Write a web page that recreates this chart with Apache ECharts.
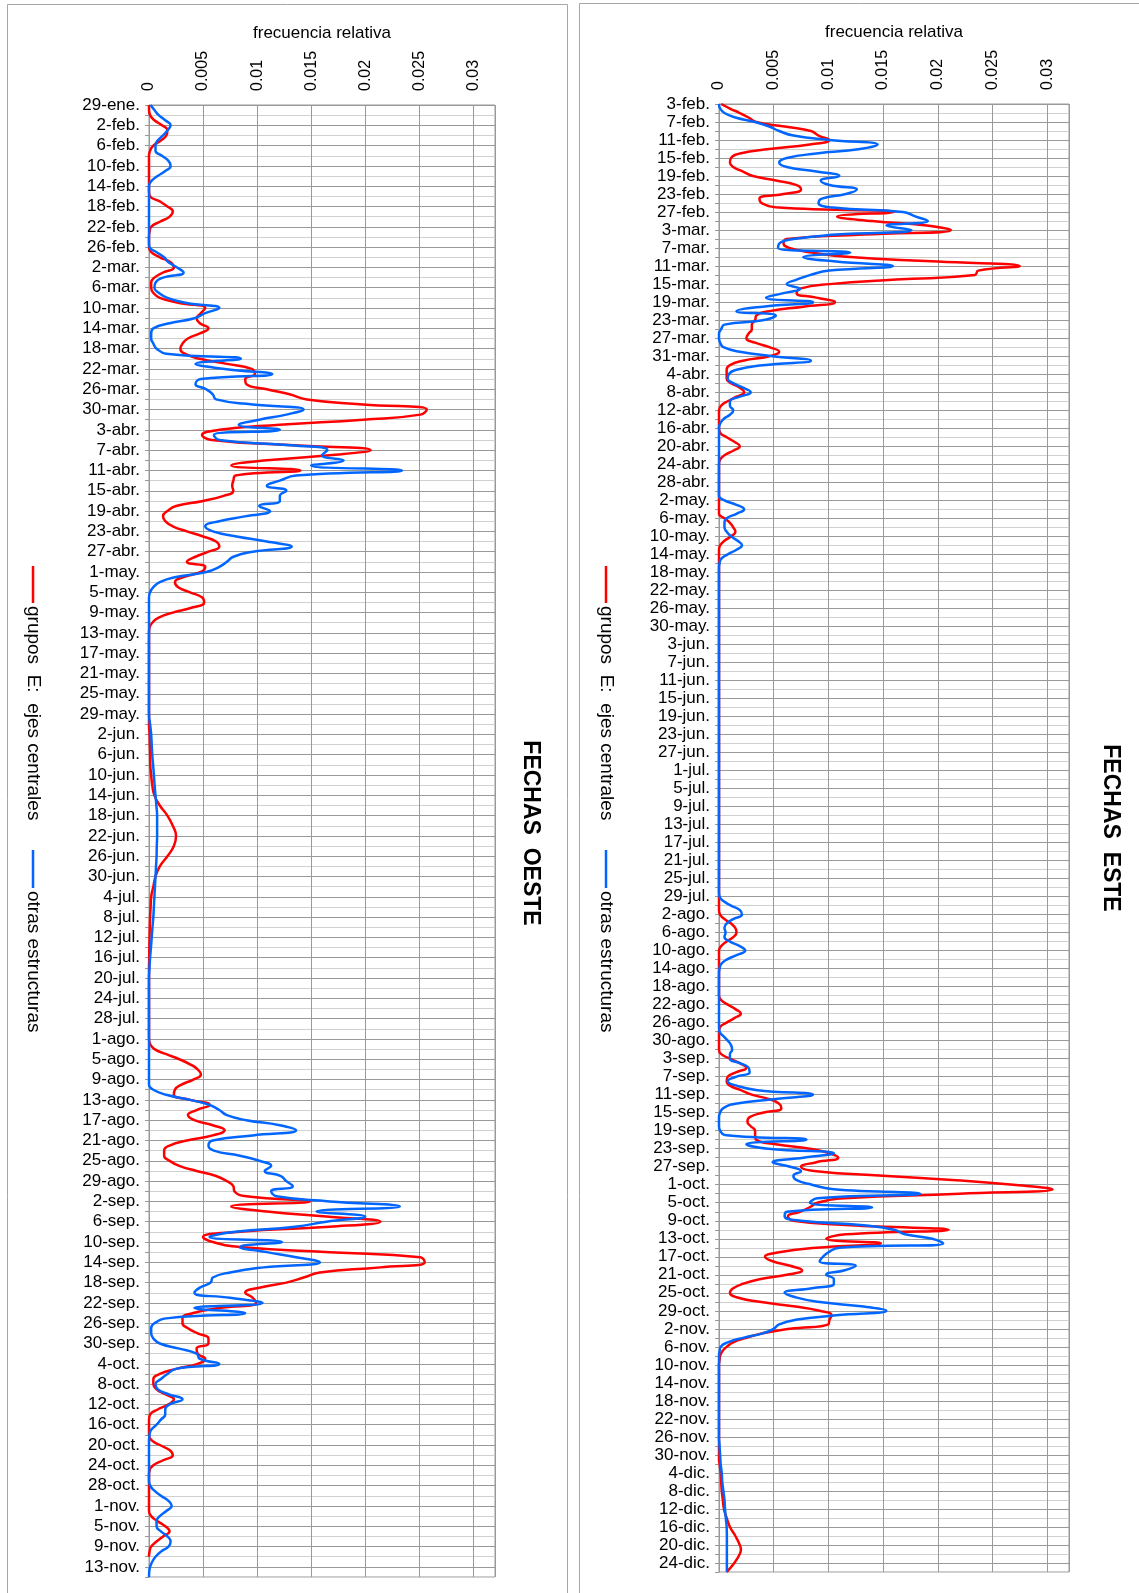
<!DOCTYPE html>
<html>
<head>
<meta charset="utf-8">
<title>Fechas oeste / este</title>
<script src="https://cdn.jsdelivr.net/npm/echarts@6/dist/echarts.min.js"></script>
<style>
  html, body { margin: 0; padding: 0; background: #fff; }
  #chart { width: 1139px; height: 1593px; }
</style>
</head>
<body>
<div id="chart"></div>
<script>
  // frecuencia relativa diaria, en milesimas (se divide por 1000 al dibujar)
  // null = dia sin lectura, la curva pasa de largo (connectNulls)
  const meses = ['ene', 'feb', 'mar', 'abr', 'may', 'jun', 'jul', 'ago', 'sep', 'oct', 'nov', 'dic'];
  const diasMes = [31, 28, 31, 30, 31, 30, 31, 31, 30, 31, 30, 31];

  const oesteInicio = [0, 29];   // 29-ene
  const oesteDias = 291;         // hasta 15-nov
  const esteInicio = [1, 3];     // 3-feb
  const esteDias = 327;          // hasta 26-dic

  const xTicks = [0, 0.005, 0.01, 0.015, 0.02, 0.025, 0.03];

  const oesteRojo = [
    0, 0, 0.1,
    // feb
    0.5, 1.2, 1.7, 1.6, 1.1, 0.4, 0.1, 0, 0, 0,
    0, 0, 0, 0, 0, 0.1, 1.0, 1.7, 2.2, 1.9,
    1.0, 0.2, 0.05, 0, 0, 0, 0.2, 1.0,
    // mar
    2.0, 2.3, 1.3, 0.5, 0.2, 0.2, 0.4, 1.0, 2.8, 5.2,
    4.8, 4.4, 4.7, 5.5, 4.7, 3.6, 3.1, 2.9, 3.3, 4.7,
    7.2, 9.5, 9.8, 8.9, 9.0, 10.9, 13.0, 14.6, 19.8, 25.7, 25.1,
    // abr
    19.8, 12.1, 6.5, 4.9, 5.8, 13.0, 20.5, 16.7, 10.9, 7.6,
    14.0, 8.0, 7.8, 7.7, 7.8, 6.9, 5.0, 2.5, 1.7, 1.3,
    1.5, 2.2, 3.5, 5.0, 6.2, 6.5, 5.5, 4.3, 3.5, 5.2,
    // may
    4.8, 3.2, 2.4, 2.7, 3.8, 4.9, 5.1, 4.0, 2.2, 0.9,
    0.3, 0.05, 0, 0, 0, 0, 0, 0, 0, 0,
    0, 0, 0, 0, 0, 0, 0, 0, 0, 0, 0,
    // jun
    null, 0.05, null, 0.07, null, 0.1, null, 0.12, null, 0.2,
    null, 0.3, null, 0.5, null, 1.0, null, 1.7, null, 2.2,
    null, 2.5, null, 2.3, null, 1.7, null, 1.0, null, 0.6,
    // jul
    null, 0.4, null, 0.2, null, 0.15, null, 0.1, null, 0.07,
    null, 0.05, null, 0.03, null, 0.02, null, 0, 0, 0,
    0, 0, 0, 0, 0, 0, 0, 0, 0, 0, 0,
    // ago
    0, 0.1, 0.5, 1.6, 2.8, 3.8, 4.5, 4.8, 4.1, 3.0,
    2.4, 2.3, 3.8, 5.6, 4.4, 3.6, 4.2, 5.9, 7.0, 5.9,
    3.5, 1.9, 1.4, 1.4, 1.9, 2.8, 4.4, 6.2, 7.2, 7.8, 7.9,
    // sep
    9.0, 14.9, 7.6, 10.9, 16.4, 21.4, 16.7, 8.4, 5.0, 5.9,
    8.4, 16.7, 25.1, 25.5, 21.4, 15.8, 14.3, 12.7, 10.2, 8.9,
    9.6, 9.9, 6.5, 4.1, 3.1, 3.1, 3.6, 4.5, 5.5, 5.5,
    // oct
    4.4, 4.5, 5.2, 4.5, 2.5, 1.0, 0.4, 0.4, 0.7, 1.5,
    2.3, 1.8, 0.8, 0.1, 0, 0, 0, 0, 0.2, 1.0,
    1.9, 2.2, 1.3, 0.4, 0.05, 0, 0, 0, 0, 0, 0,
    // nov
    0, 0, 0.2, 0.8, 1.5, 1.9, 1.3, 0.7, 0.2, 0.05,
    0, null, null, null, null
  ];

  const oesteAzul = [
    0.15, 0.5, 0.9,
    // feb
    1.5, 2.0, 1.7, 1.3, 0.8, 0.6, 0.6, 1.2, 1.8, 2.0,
    1.5, 0.8, 0.2, 0, 0, 0, 0, 0, 0, 0,
    0, 0, 0, 0, 0, 0.05, 0.7, 1.4,
    // mar
    1.8, 2.6, 3.2, 1.3, 0.6, 0.5, 0.9, 1.7, 3.5, 6.5,
    5.2, 4.2, 1.9, 0.4, 0.2, 0.2, 0.4, 0.7, 1.6, 8.5,
    4.3, 7.0, 11.4, 4.8, 4.3, 5.3, 5.9, 6.2, 9.6, 14.3, 12.7,
    // abr
    10.2, 8.3, 12.1, 6.0, 6.5, 12.7, 16.5, 16.0, 18.0, 15.0,
    23.4, 13.6, 12.1, 10.9, 12.7, 12.1, 12.1, 10.2, 11.2, 9.0,
    6.5, 5.2, 5.9, 8.1, 10.9, 13.2, 9.6, 7.8, 7.2, 6.5,
    // may
    5.3, 2.5, 1.0, 0.4, 0.1, 0, 0, 0, 0, 0,
    0, 0, 0, 0, 0, 0, 0, 0, 0, 0,
    0, 0, 0, 0, 0, 0, 0, 0, 0, null, 0.1,
    // jun
    null, 0.2, null, 0.25, null, 0.3, null, 0.38, null, 0.45,
    null, 0.52, null, 0.6, null, 0.68, null, 0.75, null, 0.75,
    null, 0.75, null, 0.72, null, 0.7, null, 0.65, null, 0.6,
    // jul
    null, 0.55, null, 0.5, null, 0.45, null, 0.4, null, 0.32,
    null, 0.25, null, 0.18, null, 0.1, null, 0.05, null, 0,
    0, 0, 0, 0, 0, 0, 0, 0, 0, 0, 0,
    // ago
    0, 0, 0, 0, 0, 0, 0, 0, 0, 0,
    0.4, 1.6, 3.8, 5.6, 6.5, 7.2, 9.0, 12.1, 13.6, 9.6,
    5.9, 5.5, 6.0, 8.4, 10.2, 11.3, 10.7, 12.2, 12.7, 13.3, 11.3,
    // sep
    11.8, 16.7, 23.2, 15.5, 20.0, 16.4, 13.5, 8.0, 5.6, 12.3,
    8.4, 10.9, 13.6, 15.8, 10.6, 7.5, 5.9, 5.7, 4.7, 4.2,
    7.5, 10.5, 4.2, 8.9, 1.8, 0.5, 0.2, 0.2, 0.4, 1.0,
    // oct
    2.8, 4.4, 4.7, 6.5, 2.5, 1.7, 1.1, 0.6, 0.8, 1.8,
    3.1, 1.9, 1.5, 1.5, 1.1, 0.7, 0.2, 0.05, 0, 0,
    0, 0, 0, 0, 0, 0, 0, 0.1, 0.5, 1.1, 1.8,
    // nov
    2.1, 1.6, 1.0, 0.7, 0.7, 1.1, 1.7, 2.0, 1.8, 1.1,
    0.6, 0.3, 0.1, 0.02, 0
  ];

  const esteRojo = [
    // feb 3-28
    0.2, 1.0, 1.9, 2.7, 3.4, 6.0, 8.4, 9.1,
    10.1, 8.3, 4.6, 1.9, 1.1, 1.0, 1.3, 2.2, 3.1, 5.2,
    7.1, 7.5, 5.9, 3.7, 3.9, 5.5, 16.0, 10.8,
    // mar
    14.0, 19.0, 21.2, 13.2, 6.2, 5.9, 6.5, 8.5, 12.0, 20.0,
    27.5, 23.7, 23.4, 16.2, 10.1, 7.4, 7.1, 8.9, 10.6, 7.7,
    4.6, 3.4, 3.3, 3.0, 3.0, 2.7, 2.5, 3.3, 4.6, 5.5, 4.6,
    // abr
    2.2, 1.0, 0.7, 0.7, 0.7, 1.1, 1.9, 2.3, 1.6, 0.8,
    0.2, 0, 0, 0, 0, 0, 0.1, 0.7, 1.4, 1.9,
    1.3, 0.5, 0.1, 0, 0, 0, 0, 0, 0, 0,
    // may
    0, 0, 0, 0, 0, 0.5, 1.0, 1.3, 1.5, 1.1,
    0.5, 0.1, 0, 0, 0, 0, 0, 0, 0, 0,
    0, 0, 0, 0, 0, 0, 0, 0, 0, 0, 0,
    // jun
    0, 0, 0, 0, 0, 0, 0, 0, 0, 0,
    0, 0, 0, 0, 0, 0, 0, 0, 0, 0,
    0, 0, 0, 0, 0, 0, 0, 0, 0, 0,
    // jul
    0, 0, 0, 0, 0, 0, 0, 0, 0, 0,
    0, 0, 0, 0, 0, 0, 0, 0, 0, 0,
    0, 0, 0, 0, 0, 0, 0, 0, 0, 0, 0,
    // ago
    0, 0.1, 0.5, 1.1, 1.5, 1.6, 1.3, 0.7, 0.2, 0,
    0, 0, 0, 0, 0, 0, 0, 0, 0, 0,
    0.2, 0.8, 1.5, 2.0, 1.4, 0.7, 0.1, 0, 0, 0, 0,
    // sep
    0, 0.2, 1.0, 1.9, 2.5, 1.6, 0.8, 0.7, 1.0, 2.0,
    3.0, 4.6, 5.5, 5.7, 4.0, 2.8, 2.6, 2.9, 3.3, 3.3,
    3.4, 5.2, 8.3, 10.1, 10.9, 8.9, 7.5, 8.9, 15.0, 21.7,
    // oct
    26.9, 30.5, 22.0, 11.5, 9.0, 8.3, 7.4, 6.3, 6.8, 12.0,
    21.0, 11.6, 9.8, 14.8, 8.9, 5.5, 4.2, 4.9, 6.5, 7.6,
    6.2, 3.7, 2.2, 1.3, 1.0, 1.6, 3.7, 6.8, 9.2, 10.3, 10.1,
    // nov
    10.0, 6.5, 4.0, 2.5, 1.3, 0.7, 0.3, 0.1, 0.05, 0,
    0, 0, 0, 0, 0, 0, 0, 0, 0, 0,
    0, 0, 0, 0, 0, 0, 0, 0, 0, 0,
    // dic 1-26
    0, 0.05, null, 0.15, null, 0.2, null, 0.25, null, 0.35,
    null, 0.45, null, 0.7, null, 1.0, null, 1.5, null, 1.9,
    2.0, 1.9, null, 1.4, null, 0.7
  ];

  const esteAzul = [
    // feb 3-28
    0, 0.1, 0.5, 1.5, 3.3, 4.6, 5.5, 6.8,
    10.1, 14.5, 12.9, 8.9, 6.2, 5.5, 6.2, 8.9, 11.0, 9.3,
    10.1, 12.6, 11.6, 9.4, 9.1, 10.4, 16.8, 18.0,
    // mar
    19.1, 15.3, 17.6, 10.7, 6.8, 5.5, 5.4, 12.0, 7.7, 10.7,
    15.9, 10.1, 8.3, 7.1, 6.2, 7.4, 5.9, 4.3, 8.6, 4.0,
    1.6, 5.2, 4.0, 0.5, 0.2, 0, 0, 0.1, 0.4, 1.9, 4.9,
    // abr
    8.4, 4.0, 1.6, 0.9, 0.8, 1.3, 2.2, 2.9, 1.9, 1.0,
    1.0, 1.3, 1.0, 0.4, 0.1, 0, 0, 0, 0, 0,
    0, 0, 0, 0, 0, 0, 0, 0, 0, 0,
    // may
    0, 0.5, 1.6, 2.3, 1.6, 0.7, 0.5, 0.5, 0.7, 1.1,
    1.7, 2.1, 1.6, 0.8, 0.2, 0.05, 0, 0, 0, 0,
    0, 0, 0, 0, 0, 0, 0, 0, 0, 0, 0,
    // jun
    0, 0, 0, 0, 0, 0, 0, 0, 0, 0,
    0, 0, 0, 0, 0, 0, 0, 0, 0, 0,
    0, 0, 0, 0, 0, 0, 0, 0, 0, 0,
    // jul
    0, 0, 0, 0, 0, 0, 0, 0, 0, 0,
    0, 0, 0, 0, 0, 0, 0, 0, 0, 0,
    0, 0, 0, 0, 0, 0, 0, 0, 0.05, 0.4, 1.1,
    // ago
    1.9, 2.1, 1.3, 0.7, 0.5, 0.6, 0.5, 1.0, 1.9, 2.4,
    1.6, 0.7, 0.2, 0.05, 0, 0, 0, 0, 0, 0,
    0, 0, 0, 0, 0, 0, 0, 0.05, 0.4, 0.8, 1.1,
    // sep
    1.2, 1.0, 1.0, 1.9, 2.7, 2.8, 1.6, 0.8, 1.6, 3.5,
    8.6, 5.0, 1.5, 0.4, 0.1, 0, 0, 0, 0.1, 0.7,
    8.0, 2.5, 4.5, 10.5, 7.7, 4.9, 6.5, 7.5, 6.8, 7.1,
    // oct
    8.5, 10.5, 18.4, 9.0, 8.3, 14.0, 6.2, 6.0, 7.5, 13.2,
    16.0, 17.0, 19.5, 20.5, 11.0, 10.0, 9.5, 9.2, 12.5, 11.5,
    9.8, 10.5, 10.5, 8.5, 6.0, 7.0, 9.0, 13.0, 15.3, 10.7, 7.0,
    // nov
    5.5, 5.0, 4.0, 2.2, 0.8, 0.15, 0.05, 0, 0, 0,
    0, 0, 0, 0, 0, 0, 0, 0, 0, 0,
    0, 0, 0, 0, 0, 0, null, 0.05, null, 0.1,
    // dic 1-26
    null, 0.15, null, 0.25, null, 0.3, null, 0.4, null, 0.5,
    null, 0.55, null, 0.62, null, 0.7, null, 0.72, null, 0.72,
    null, 0.72, null, 0.72, null, 0.72
  ];

  const ROJO = '#ff0000';
  const AZUL = '#0066ff';
  const FONT = "'Liberation Sans', Arial, sans-serif";

  function fechas(inicio, n) {
    let mes = inicio[0], dia = inicio[1];
    const out = [];
    for (let i = 0; i < n; i++) {
      out.push(dia + '-' + meses[mes] + '.');
      dia++;
      if (dia > diasMes[mes]) { dia = 1; mes++; }
    }
    return out;
  }

  [oesteRojo, oesteAzul].forEach(a => { if (a.length !== oesteDias) console.warn('oeste', a.length); });
  [esteRojo, esteAzul].forEach(a => { if (a.length !== esteDias) console.warn('este', a.length); });

  const grids = [
    { left: 149, top: 105, width: 346, height: 1472, show: true, borderColor: '#999', borderWidth: 1, outerBoundsMode: 'none' },
    { left: 719, top: 104, width: 350, height: 1468, show: true, borderColor: '#999', borderWidth: 1, outerBoundsMode: 'none' }
  ];

  function ejeValor(i) {
    return {
      gridIndex: i, type: 'value', position: 'top',
      min: 0, max: 0.032, interval: 0.005,
      name: 'frecuencia relativa', nameLocation: 'middle', nameGap: 63,
      nameTextStyle: { fontFamily: FONT, fontSize: 17, color: '#000' },
      axisLine: { show: false }, axisTick: { show: false },
      axisLabel: {
        rotate: -90, margin: 14, fontFamily: FONT, fontSize: 16, color: '#000',
        formatter: v => (xTicks.some(t => Math.abs(t - v) < 1e-9) ? String(Math.round(v * 1000) / 1000) : '')
      },
      splitLine: { show: true, lineStyle: { color: '#999', width: 1 } }
    };
  }

  function ejeFechas(i, datos) {
    return {
      gridIndex: i, type: 'category', inverse: true, boundaryGap: false, data: datos,
      axisLine: { show: true, lineStyle: { color: '#999' } },
      axisTick: { show: true, interval: 1, length: 4, lineStyle: { color: '#999' } },
      axisLabel: { interval: 3, margin: 9, fontFamily: FONT, fontSize: 17, color: '#000' },
      splitLine: { show: true, interval: 1, lineStyle: { color: ['#999999', '#d0d0d0'], width: 1 } }
    };
  }

  function serie(name, datos, color, i) {
    return {
      name: name, type: 'line', xAxisIndex: i, yAxisIndex: i,
      data: datos.map(v => (v === null ? null : v / 1000)),
      smooth: 0.5, showSymbol: false, connectNulls: true, clip: true,
      lineStyle: { color: color, width: 2.5 }, itemStyle: { color: color }
    };
  }

  function textoGirado(txt, x, y, font, align) {
    return {
      type: 'text', x: x, y: y, rotation: -Math.PI / 2, silent: true,
      style: { text: txt, font: font, fill: '#000', align: align, verticalAlign: 'middle' }
    };
  }

  function leyenda(x) {
    const f = '19px ' + FONT;
    return [
      { type: 'line', silent: true, shape: { x1: x, y1: 566, x2: x, y2: 603 }, style: { stroke: ROJO, lineWidth: 2.5 } },
      textoGirado('grupos  E:  ejes centrales', x, 606, f, 'left'),
      { type: 'line', silent: true, shape: { x1: x, y1: 850, x2: x, y2: 888 }, style: { stroke: AZUL, lineWidth: 2.5 } },
      textoGirado('otras estructuras', x, 891, f, 'left')
    ];
  }

  const option = {
    animation: false,
    backgroundColor: '#fff',
    grid: grids,
    xAxis: [ejeValor(0), ejeValor(1)],
    yAxis: [ejeFechas(0, fechas(oesteInicio, oesteDias)), ejeFechas(1, fechas(esteInicio, esteDias))],
    series: [
      serie('grupos E: ejes centrales', oesteRojo, ROJO, 0),
      serie('otras estructuras', oesteAzul, AZUL, 0),
      serie('grupos E: ejes centrales', esteRojo, ROJO, 1),
      serie('otras estructuras', esteAzul, AZUL, 1)
    ],
    graphic: [
      { type: 'rect', silent: true, shape: { x: 7.5, y: 4.5, width: 560, height: 1600 }, style: { fill: 'none', stroke: '#a6a6a6', lineWidth: 1 } },
      { type: 'rect', silent: true, shape: { x: 579.5, y: 3.5, width: 600, height: 1600 }, style: { fill: 'none', stroke: '#a6a6a6', lineWidth: 1 } },
      textoGirado('FECHAS  OESTE', 530, 833, 'bold 23px ' + FONT, 'center'),
      textoGirado('FECHAS  ESTE', 1110, 828, 'bold 23px ' + FONT, 'center'),
      ...leyenda(33),
      ...leyenda(606)
    ]
  };

  const chart = echarts.init(document.getElementById('chart'), null, { renderer: 'canvas' });
  chart.setOption(option);
</script>
</body>
</html>
